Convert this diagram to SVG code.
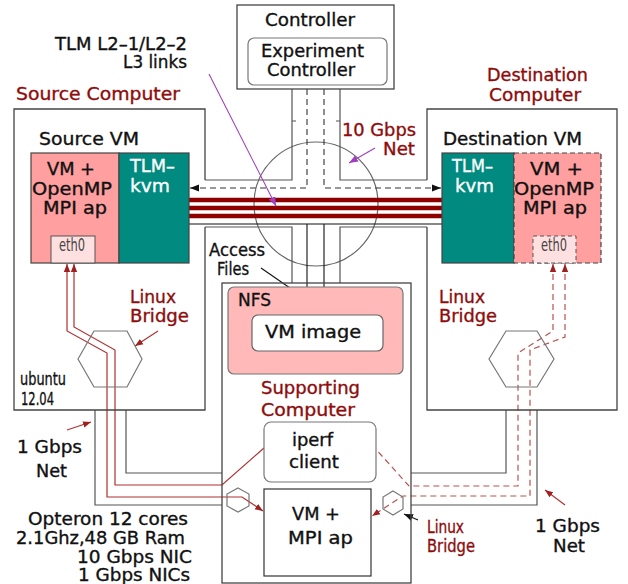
<svg xmlns="http://www.w3.org/2000/svg" width="628" height="584" viewBox="0 0 628 584">
  <defs>
    <style>
      .t{font-family:"DejaVu Sans","Liberation Sans",sans-serif;font-size:17px;fill:#111;stroke:#111;stroke-width:0.35}
      .r{fill:#8e0c0c;stroke:#8e0c0c}
      .w{fill:#ffffff;stroke:#ffffff}
      .g{fill:#444;stroke:none}
      .box{fill:none;stroke:#444;stroke-width:1.3}
      .ch{fill:none;stroke:#555;stroke-width:1.2}
      .hex{fill:none;stroke:#777;stroke-width:1.2}
      .dsh{fill:none;stroke:#333;stroke-width:1.1;stroke-dasharray:6 4}
      .ln{fill:none;stroke:#111;stroke-width:1.1}
      .red{fill:none;stroke:#b03030;stroke-width:1.2}
      .redd{fill:none;stroke:#b85050;stroke-width:1.2;stroke-dasharray:6 4}
      .thick{fill:none;stroke:#8e0000;stroke-width:4.7}
      .pur{fill:none;stroke:#a040c0;stroke-width:1.1}
    </style>
    <marker id="ab" viewBox="0 0 10 10" refX="10" refY="5" markerWidth="9" markerHeight="9" markerUnits="userSpaceOnUse" orient="auto-start-reverse">
      <path d="M0,1 L10,5 L0,9 Z" fill="#111"/>
    </marker>
    <marker id="ar" viewBox="0 0 10 10" refX="10" refY="5" markerWidth="8" markerHeight="8" markerUnits="userSpaceOnUse" orient="auto-start-reverse">
      <path d="M0,1 L10,5 L0,9 Z" fill="#a02020"/>
    </marker>
    <marker id="ap" viewBox="0 0 10 10" refX="10" refY="5" markerWidth="9" markerHeight="9" markerUnits="userSpaceOnUse" orient="auto">
      <path d="M0,1 L10,5 L0,9 Z" fill="#a040c0"/>
    </marker>
    <marker id="at" viewBox="0 0 10 10" refX="10" refY="5" markerWidth="10" markerHeight="11" markerUnits="userSpaceOnUse" orient="auto">
      <path d="M0,0 L10,5 L0,10 Z" fill="#8e0000"/>
    </marker>
  </defs>
  <rect width="628" height="584" fill="#ffffff"/>

  <!-- network channels -->
  <g id="connectors">
    <!-- 10 Gbps switch -->
    <circle cx="316" cy="204" r="62" fill="none" stroke="#666" stroke-width="1.2"/>
    <path class="ch" d="M205,180 H292 V89 M340,89 V180 H427 M205,227 H292 V283 M340,283 V227 H427"/>
    <path class="ch" d="M292,121 H296 M336,121 H340"/>
    <!-- 1 Gbps channels -->
    <path class="ch" d="M95,410 V505 H222 M126,410 V473 H222"/>
    <path class="ch" d="M506,410 V473 H411 M537,410 V505 H411"/>
    <!-- controller links -->
    <path class="dsh" d="M307,89 V188 H190" marker-end="url(#ab)"/>
    <path class="dsh" d="M324,89 V188 H441" marker-end="url(#ab)"/>
    <path class="ln" d="M120,224 H513" marker-start="url(#ab)" marker-end="url(#ab)"/>
    <path class="ln" d="M307,224 V313" marker-end="url(#ab)"/>
    <path class="ln" d="M324,224 V313" marker-end="url(#ab)"/>
    <!-- TLM links -->
    <path class="thick" d="M170,200 H458" marker-end="url(#at)"/>
    <path class="thick" d="M170,208 H458" marker-end="url(#at)"/>
    <path class="thick" d="M170,216 H458" marker-end="url(#at)"/>
    <!-- eth0 paths, source side -->
    <path class="red" d="M67,264 V331 L107,353 V497 H242 L263,511" marker-start="url(#ar)" marker-end="url(#ar)"/>
    <path class="red" d="M74,264 V327 L115,350 V485 H222 L264,448" marker-start="url(#ar)"/>
    <!-- eth0 paths, destination side -->
    <path class="redd" d="M553,264 V331 L518,353 V486 H409 L373,446" marker-start="url(#ar)"/>
    <path class="redd" d="M565,264 V337 L530,350 V496 H403 L372,516" marker-start="url(#ar)" marker-end="url(#ar)"/>
    <!-- label pointers -->
    <path class="pur" d="M209,74 L276,206" marker-end="url(#ap)"/>
    <path class="pur" d="M375,148 L349,163" marker-end="url(#ap)"/>
    <path class="ln" stroke="#333" d="M261,268 L303,297" marker-end="url(#ab)"/>
    <path class="red" d="M158,331 L135,346" marker-end="url(#ar)"/>
    <path class="red" d="M67,430 L91,422" marker-end="url(#ar)"/>
    <path class="red" d="M565,505 L545,490" marker-end="url(#ar)"/>
    <path class="ln" d="M418,520 L404,514" marker-end="url(#ab)"/>
  </g>

  <g id="controller">
    <rect class="box" x="237" y="5" width="157" height="84" fill="#fff"/>
    <text class="t" x="265" y="26" textLength="90" lengthAdjust="spacingAndGlyphs">Controller</text>
  </g>
  <g id="experiment-controller">
    <rect x="248" y="38" width="139" height="47" rx="6" fill="#fff" stroke="#777" stroke-width="1.2"/>
    <text class="t" x="261" y="57" textLength="103" lengthAdjust="spacingAndGlyphs">Experiment</text>
    <text class="t" x="267" y="76" textLength="88" lengthAdjust="spacingAndGlyphs">Controller</text>
  </g>

  <g id="source-computer">
    <path class="box" d="M205,180 V109 H14 V410 H205 V227"/>
    <text class="t r" x="16" y="100" textLength="164" lengthAdjust="spacingAndGlyphs">Source Computer</text>
    <text class="t" x="39" y="145" textLength="100" lengthAdjust="spacingAndGlyphs">Source VM</text>
    <text class="t" font-size="14" x="20" y="385" textLength="46" lengthAdjust="spacingAndGlyphs">ubuntu</text>
    <text class="t" font-size="14" x="21" y="405" textLength="33" lengthAdjust="spacingAndGlyphs">12.04</text>
  </g>
  <g id="source-vm-app">
    <rect x="31" y="153" width="88" height="110" fill="#ff9f9f" stroke="#444" stroke-width="1.2"/>
    <text class="t" font-size="18" x="47" y="175" textLength="48" lengthAdjust="spacingAndGlyphs">VM +</text>
    <text class="t" font-size="18" x="32" y="195" textLength="80" lengthAdjust="spacingAndGlyphs">OpenMP</text>
    <text class="t" font-size="18" x="43" y="214" textLength="64" lengthAdjust="spacingAndGlyphs">MPI ap</text>
  </g>
  <g id="source-tlm-kvm">
    <rect x="119" y="153" width="70" height="110" fill="#008a80" stroke="#444" stroke-width="1.2"/>
    <text class="t w" font-size="18" x="130" y="172" textLength="45" lengthAdjust="spacingAndGlyphs">TLM–</text>
    <text class="t w" font-size="18" x="130" y="192" textLength="40" lengthAdjust="spacingAndGlyphs">kvm</text>
  </g>
  <g id="source-eth0">
    <rect x="51" y="236" width="44" height="27" fill="#ffe0e0" stroke="#555" stroke-width="1"/>
    <text class="t g" font-size="12" x="59" y="251" textLength="26" lengthAdjust="spacingAndGlyphs">eth0</text>
  </g>
  <g id="source-bridge">
    <polygon class="hex" points="78,359 94,331 127,331 142,359 127,387 94,387"/>
    <text class="t r" x="130" y="303" textLength="46" lengthAdjust="spacingAndGlyphs">Linux</text>
    <text class="t r" x="130" y="322" textLength="59" lengthAdjust="spacingAndGlyphs">Bridge</text>
  </g>

  <g id="destination-computer">
    <path class="box" d="M427,180 V109 H617 V410 H427 V227"/>
    <text class="t r" font-size="16.5" x="487" y="81" textLength="101" lengthAdjust="spacingAndGlyphs">Destination</text>
    <text class="t r" font-size="16.5" x="489" y="101" textLength="92" lengthAdjust="spacingAndGlyphs">Computer</text>
    <text class="t" x="443" y="145" textLength="139" lengthAdjust="spacingAndGlyphs">Destination VM</text>
  </g>
  <g id="destination-tlm-kvm">
    <rect x="442" y="153" width="72" height="110" fill="#008a80" stroke="#444" stroke-width="1.2"/>
    <text class="t w" font-size="18" x="452" y="172" textLength="41" lengthAdjust="spacingAndGlyphs">TLM–</text>
    <text class="t w" font-size="18" x="455" y="192" textLength="39" lengthAdjust="spacingAndGlyphs">kvm</text>
  </g>
  <g id="destination-vm-app">
    <rect x="514" y="153" width="87" height="110" fill="#ff9f9f" stroke="#444" stroke-width="1.2" stroke-dasharray="5 3"/>
    <text class="t" font-size="18" x="530" y="175" textLength="53" lengthAdjust="spacingAndGlyphs">VM +</text>
    <text class="t" font-size="18" x="514" y="195" textLength="80" lengthAdjust="spacingAndGlyphs">OpenMP</text>
    <text class="t" font-size="18" x="523" y="214" textLength="64" lengthAdjust="spacingAndGlyphs">MPI ap</text>
  </g>
  <g id="destination-eth0">
    <rect x="533" y="236" width="43" height="27" fill="#ffe0e0" stroke="#555" stroke-width="1" stroke-dasharray="4 3"/>
    <text class="t g" font-size="12" x="541" y="251" textLength="26" lengthAdjust="spacingAndGlyphs">eth0</text>
  </g>
  <g id="destination-bridge">
    <polygon class="hex" points="489,359 506,331 537,331 554,359 537,387 506,387"/>
    <text class="t r" x="439" y="303" textLength="46" lengthAdjust="spacingAndGlyphs">Linux</text>
    <text class="t r" x="439" y="322" textLength="58" lengthAdjust="spacingAndGlyphs">Bridge</text>
  </g>

  <g id="supporting-computer">
    <rect class="box" x="222" y="283" width="189" height="300"/>
    <text class="t r" x="261" y="394" textLength="99" lengthAdjust="spacingAndGlyphs">Supporting</text>
    <text class="t r" x="261" y="416" textLength="94" lengthAdjust="spacingAndGlyphs">Computer</text>
  </g>
  <g id="nfs">
    <rect x="228" y="287" width="175" height="87" rx="6" fill="#ffb9b9" stroke="#777" stroke-width="1.2"/>
    <text class="t" x="238" y="306" textLength="33" lengthAdjust="spacingAndGlyphs">NFS</text>
  </g>
  <g id="vm-image">
    <rect x="252" y="315" width="131" height="36" rx="6" fill="#fff" stroke="#666" stroke-width="1.2"/>
    <text class="t" x="265" y="338" textLength="96" lengthAdjust="spacingAndGlyphs">VM image</text>
  </g>
  <g id="iperf-client">
    <rect x="264" y="422" width="112" height="60" rx="7" fill="#fff" stroke="#777" stroke-width="1.2"/>
    <text class="t" font-size="18" x="292" y="446" textLength="41" lengthAdjust="spacingAndGlyphs">iperf</text>
    <text class="t" font-size="18" x="289" y="468" textLength="50" lengthAdjust="spacingAndGlyphs">client</text>
  </g>
  <g id="vm-mpi-app">
    <rect x="264" y="489" width="107" height="87" fill="#fff" stroke="#333" stroke-width="1.2"/>
    <text class="t" font-size="18" x="292" y="520" textLength="48" lengthAdjust="spacingAndGlyphs">VM +</text>
    <text class="t" font-size="18" x="288" y="544" textLength="65" lengthAdjust="spacingAndGlyphs">MPI ap</text>
  </g>
  <g id="support-bridges">
    <polygon class="hex" points="238,488 249,494 249,506 238,512 227,506 227,494"/>
    <polygon class="hex" points="393,491 403,497 403,509 393,515 383,509 383,497"/>
    <text class="t r" font-size="13" x="427" y="533" textLength="37" lengthAdjust="spacingAndGlyphs">Linux</text>
    <text class="t r" font-size="13" x="427" y="552" textLength="48" lengthAdjust="spacingAndGlyphs">Bridge</text>
  </g>

  <!-- free labels -->
  <g id="labels">
    <text class="t" x="55" y="50" textLength="132" lengthAdjust="spacingAndGlyphs">TLM L2–1/L2–2</text>
    <text class="t" x="123" y="68" textLength="64" lengthAdjust="spacingAndGlyphs">L3 links</text>
    <text class="t r" x="342" y="136" textLength="74" lengthAdjust="spacingAndGlyphs">10 Gbps</text>
    <text class="t r" x="383" y="155" textLength="32" lengthAdjust="spacingAndGlyphs">Net</text>
    <text class="t" font-size="15" x="209" y="256" textLength="56" lengthAdjust="spacingAndGlyphs">Access</text>
    <text class="t" font-size="15" x="217" y="275" textLength="32" lengthAdjust="spacingAndGlyphs">Files</text>
    <text class="t" x="17" y="453" textLength="65" lengthAdjust="spacingAndGlyphs">1 Gbps</text>
    <text class="t" x="36" y="477" textLength="31" lengthAdjust="spacingAndGlyphs">Net</text>
    <text class="t" x="535" y="532" textLength="65" lengthAdjust="spacingAndGlyphs">1 Gbps</text>
    <text class="t" x="553" y="552" textLength="32" lengthAdjust="spacingAndGlyphs">Net</text>
    <text class="t" x="28" y="525" textLength="160" lengthAdjust="spacingAndGlyphs">Opteron 12 cores</text>
    <text class="t" x="16" y="544" textLength="169" lengthAdjust="spacingAndGlyphs">2.1Ghz,48 GB Ram</text>
    <text class="t" x="77" y="563" textLength="115" lengthAdjust="spacingAndGlyphs">10 Gbps NIC</text>
    <text class="t" x="78" y="581" textLength="112" lengthAdjust="spacingAndGlyphs">1 Gbps NICs</text>
  </g>
</svg>
